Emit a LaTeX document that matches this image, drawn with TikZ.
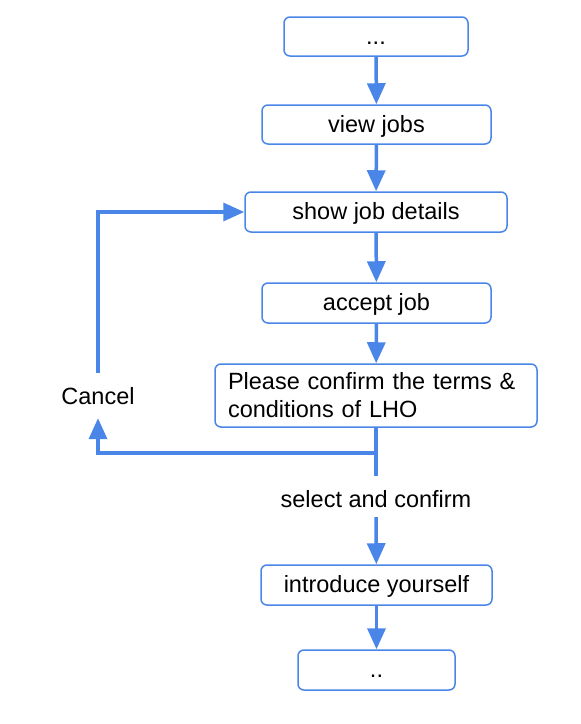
\documentclass[tikz,border=0pt]{standalone}
\usepackage{fontspec}
\setmainfont{Liberation Sans}
\usetikzlibrary{arrows.meta}
\definecolor{flowblue}{RGB}{74,134,232}
\tikzset{
  stepbox/.style={draw=flowblue, line width=1.5pt, rounded corners=6pt, inner sep=0pt,
    text height=17pt, text depth=2pt, font=\fontsize{23.5}{26}\selectfont},
  flow/.style={draw=flowblue, line width=3.5pt, -{Triangle[length=21pt,width=18pt]}},
  flowline/.style={draw=flowblue, line width=3.5pt},
  lbl/.style={font=\fontsize{23.5}{26}\selectfont, inner sep=6pt, text height=25pt, text depth=4pt}
}
\begin{document}
\begin{tikzpicture}[x=1pt, y=-1pt]
    \useasboundingbox (0,0) rectangle (581,724);

    % main column of steps
    \node[stepbox, minimum width=184pt, minimum height=39pt] (start) at (376,36.5) {...};
    \node[stepbox, minimum width=229pt, minimum height=39pt] (view) at (376.5,124.5) {view jobs};
    \node[stepbox, minimum width=262pt, minimum height=40pt] (show) at (376,212) {show job details};
    \node[stepbox, minimum width=229pt, minimum height=40pt] (accept) at (376.5,303) {accept job};
    \node[stepbox, minimum width=322pt, minimum height=63pt, text height=, text depth=, align=left, text width=296pt,
        font=\fontsize{23.5}{28}\selectfont] (confirm) at (376,395.5)
        {Please confirm the terms \&\\conditions of LHO};
    \node[stepbox, minimum width=231pt, minimum height=40pt] (intro) at (376.5,585) {introduce yourself};
    \node[stepbox, minimum width=157pt, minimum height=40pt] (finish) at (376.5,670) {..};

    % labels on the connectors
    \node[lbl] (select) at (376,496.5) {select and confirm};
    \node[lbl, text depth=8pt] (cancel) at (98,395.5) {Cancel};
    \coordinate (split) at (376,453);

    \draw[flow] (start) -- (view);
    \draw[flow] (view) -- (show);
    \draw[flow] (show) -- (accept);
    \draw[flow] (accept) -- (confirm);

    % cancel loop back to details
    \draw[flowline] (confirm.south) -- (split);
    \draw[flow] (split) -| (cancel.south);
    \draw[flow] (cancel.north) |- (show.west);

    \draw[flowline] (split) -- (select.north);
    \draw[flow] (select.south) -- (intro);
    \draw[flow] (intro) -- (finish);
\end{tikzpicture}
\end{document}
